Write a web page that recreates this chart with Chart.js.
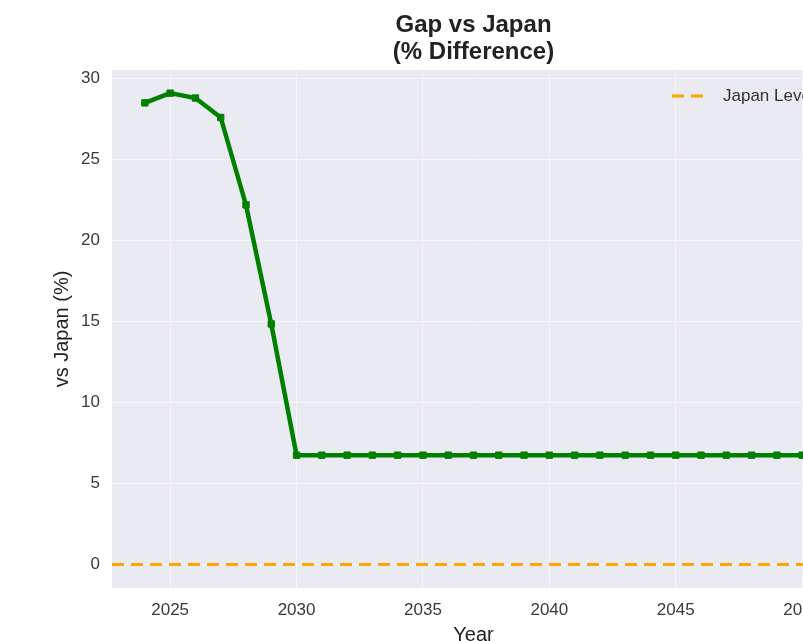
<!DOCTYPE html>
<html><head><meta charset="utf-8">
<script src="https://cdn.jsdelivr.net/npm/chart.js@4/dist/chart.umd.min.js"></script>
<style>
html,body{margin:0;padding:0;background:#fff;overflow:hidden;width:803px;height:641px}
#wrap{position:absolute;left:0;top:0;width:947px;height:660px}
</style>
</head><body><div id="wrap"><canvas id="c" width="947" height="660"></canvas></div>
<script>
const years = [2024,2025,2026,2027,2028,2029,2030,2031,2032,2033,2034,2035,2036,2037,2038,2039,2040,2041,2042,2043,2044,2045,2046,2047,2048,2049,2050];
const gapVsJapan = [28.5,29.1,28.8,27.6,22.2,14.85,6.75,6.75,6.75,6.75,6.75,6.75,6.75,6.75,6.75,6.75,6.75,6.75,6.75,6.75,6.75,6.75,6.75,6.75,6.75,6.75,6.75];
const japanLevel = 0;
const xLimits = [2022.7, 2051.3];
const yLimits = [-1.45, 30.53];
const xTicks = [2025,2030,2035,2040,2045,2050];
const yTicks = [0,5,10,15,20,25,30];
const titleLines = ['Gap vs Japan','(% Difference)'];
const legendLabel = 'Japan Level';
const xLabel = 'Year';
const yLabel = 'vs Japan (%)';

Chart.defaults.font.family = "'Liberation Sans', Arial, sans-serif";

const bgPlugin = {
  id: 'bg',
  beforeDraw(chart) {
    const {ctx, chartArea: a} = chart;
    ctx.save();
    ctx.fillStyle = '#EAEAF2';
    ctx.fillRect(a.left, a.top, a.right - a.left, a.bottom - a.top);
    ctx.restore();
  },
  afterDraw(chart) {
    const {ctx, chartArea: a} = chart;
    ctx.save();
    ctx.fillStyle = '#222';
    ctx.font = "bold 24px 'Liberation Sans', Arial, sans-serif";
    ctx.textAlign = 'center';
    ctx.textBaseline = 'alphabetic';
    const cx = (a.left + a.right) / 2;
    ctx.fillText(titleLines[0], cx, 32);
    ctx.fillText(titleLines[1], cx, 59);
    const ly = a.top + 26;
    const lx = a.right - 163;
    ctx.strokeStyle = '#FFA500';
    ctx.lineWidth = 3;
    ctx.setLineDash([12, 7]);
    ctx.beginPath();
    ctx.moveTo(lx, ly);
    ctx.lineTo(lx + 34, ly);
    ctx.stroke();
    ctx.setLineDash([]);
    ctx.fillStyle = '#333';
    ctx.font = "17px 'Liberation Sans', Arial, sans-serif";
    ctx.textAlign = 'left';
    ctx.textBaseline = 'middle';
    ctx.fillText(legendLabel, lx + 51, ly);
    ctx.restore();
  }
};

new Chart(document.getElementById('c'), {
  type: 'line',
  data: {
    datasets: [
      {
        label: legendLabel,
        data: xLimits.map(x => ({x, y: japanLevel})),
        borderColor: '#FFA500',
        borderWidth: 3,
        borderDash: [12, 7],
        pointRadius: 0,
        fill: false
      },
      {
        label: 'Gap',
        data: years.map((x, i) => ({x, y: gapVsJapan[i]})),
        borderColor: '#008000',
        backgroundColor: '#008000',
        borderWidth: 4.5,
        pointStyle: 'rect',
        pointRadius: 4.5,
        pointBorderWidth: 1,
        tension: 0,
        fill: false
      }
    ]
  },
  options: {
    responsive: false,
    animation: false,
    devicePixelRatio: 1,
    layout: {padding: {top: 70, right: 112, left: 0, bottom: 0}},
    plugins: {legend: {display: false}, title: {display: false}, tooltip: {enabled: false}},
    scales: {
      x: {
        type: 'linear',
        min: xLimits[0], max: xLimits[1],
        afterBuildTicks: s => { s.ticks = xTicks.map(v => ({value: v})); },
        afterFit: s => { s.height = 72; },
        grid: {color: '#F6F6FA', lineWidth: 1, drawTicks: false},
        border: {display: false},
        ticks: {color: '#3a3a3a', font: {size: 17}, padding: 12, maxRotation: 0, callback: v => String(v)},
        title: {display: true, text: xLabel, color: '#222', font: {size: 20}, padding: {top: 0, bottom: 13}}
      },
      y: {
        type: 'linear',
        min: yLimits[0], max: yLimits[1],
        afterBuildTicks: s => { s.ticks = yTicks.map(v => ({value: v})); },
        afterFit: s => { s.width = 112; },
        grid: {color: '#F6F6FA', lineWidth: 1, drawTicks: false},
        border: {display: false},
        ticks: {color: '#3a3a3a', font: {size: 17}, padding: 12},
        title: {display: true, text: yLabel, color: '#222', font: {size: 20}, padding: {top: 50, bottom: 0}}
      }
    }
  },
  plugins: [bgPlugin]
});
</script>
</body></html>
